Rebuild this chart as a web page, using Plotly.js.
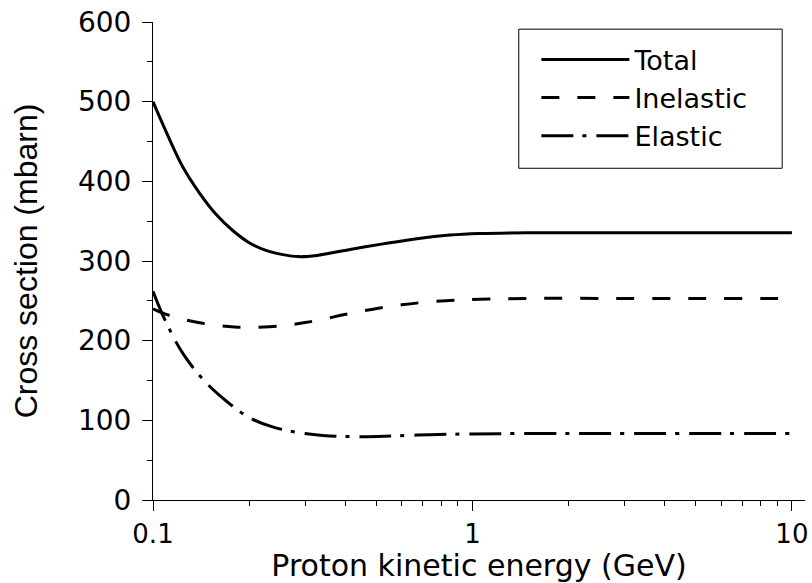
<!DOCTYPE html>
<html>
<head>
<meta charset="utf-8">
<script src="https://cdn.plot.ly/plotly-3.0.1.min.js"></script>
<style>html,body{margin:0;padding:0;background:#fff;}#chart{width:812px;height:583px;}</style>
</head>
<body>
<div id="chart"></div>
<script>
// Proton kinetic energy (GeV) and cross sections (mbarn)
const totalE = [0.1, 0.11, 0.124, 0.14, 0.158, 0.178, 0.2, 0.227, 0.255, 0.285, 0.326, 0.414, 0.525, 0.67, 0.85, 1.05, 1.5, 3, 10];
const totalXS = [500, 462, 418, 385, 358, 338, 323, 313, 308, 305.5, 307, 314.5, 321.5, 328, 332.5, 334.5, 335.5, 335.5, 335.5];

const inelE = [0.1, 0.11, 0.124, 0.14, 0.16, 0.18, 0.2, 0.232, 0.27, 0.303, 0.35, 0.394, 0.45, 0.513, 0.6, 0.7, 0.85, 1.05, 1.5, 3, 10];
const inelXS = [240, 233, 227, 222.5, 219, 217.3, 216.8, 217.5, 220, 223, 228, 232.5, 237, 241, 245, 248, 250.5, 252, 253, 253, 253];

const elE = [0.1, 0.109, 0.124, 0.146, 0.171, 0.201, 0.238, 0.282, 0.34, 0.468, 0.67, 1.0, 2, 10];
const elXS = [262, 226, 184, 148, 123, 103, 91.5, 85, 81, 79.5, 81.5, 83, 83.5, 83.5];

const seriesNames = ['Total', 'Inelastic', 'Elastic'];
const xTitle = 'Proton kinetic energy (GeV)';
const yTitle = 'Cross section (mbarn)';

const FONT = 'DejaVu Sans, Liberation Sans, Arial, sans-serif';
const FONT_Y = 'Liberation Sans, Arial, sans-serif';

const traces = [
  {x: totalE, y: totalXS, name: seriesNames[0], mode: 'lines',
   line: {color: '#000', width: 3, shape: 'spline', smoothing: 1}},
  {x: inelE, y: inelXS, name: seriesNames[1], mode: 'lines',
   line: {color: '#000', width: 3, dash: '18px,18px', shape: 'spline', smoothing: 1}},
  {x: elE, y: elXS, name: seriesNames[2], mode: 'lines',
   line: {color: '#000', width: 3, dash: '32px,9px,4px,10px', shape: 'spline', smoothing: 1}}
];

const layout = {
  width: 812, height: 583,
  margin: {l: 153, r: 7, t: 22, b: 83, pad: 0},
  paper_bgcolor: '#fff', plot_bgcolor: '#fff',
  font: {family: FONT, color: '#000', size: 28},
  showlegend: true,
  legend: {
    x: 0.588, y: 0.972, xanchor: 'left', yanchor: 'top',
    bgcolor: 'rgba(0,0,0,0)', borderwidth: 0,
    font: {family: FONT, size: 27, color: '#000'},
    itemwidth: 88, tracegroupgap: 0
  },
  shapes: [{
    type: 'rect', xref: 'paper', yref: 'paper',
    x0: 0.561, x1: 0.965, y0: 0.694, y1: 0.985,
    line: {color: '#000', width: 1}, fillcolor: 'rgba(0,0,0,0)'
  }],
  xaxis: {
    type: 'log', range: [-1, 1.041], dtick: 1,
    showgrid: false, zeroline: false,
    showline: true, linecolor: '#000', linewidth: 1,
    ticks: 'outside', ticklen: 10, tickwidth: 1, tickcolor: '#000',
    ticklabelstandoff: 1,
    tickfont: {family: FONT, size: 26, color: '#000'},
    minor: {ticks: 'outside', ticklen: 5, tickwidth: 1, tickcolor: '#000', dtick: 'D1', showgrid: false},
    title: {text: xTitle, font: {family: FONT, size: 30, color: '#000'}, standoff: 4},
    automargin: false, fixedrange: true
  },
  yaxis: {
    range: [0, 600], dtick: 100,
    showgrid: false, zeroline: false,
    showline: true, linecolor: '#000', linewidth: 1,
    ticks: 'outside', ticklen: 10, tickwidth: 1, tickcolor: '#000',
    ticklabelstandoff: 5,
    tickfont: {family: FONT, size: 28, color: '#000'},
    minor: {ticks: 'outside', ticklen: 5, tickwidth: 1, tickcolor: '#000', dtick: 50, showgrid: false},
    title: {text: yTitle, font: {family: FONT_Y, size: 32, color: '#000'}, standoff: 30},
    automargin: false, fixedrange: true
  }
};

Plotly.newPlot('chart', traces, layout, {displayModeBar: false, staticPlot: true});
</script>
</body>
</html>
